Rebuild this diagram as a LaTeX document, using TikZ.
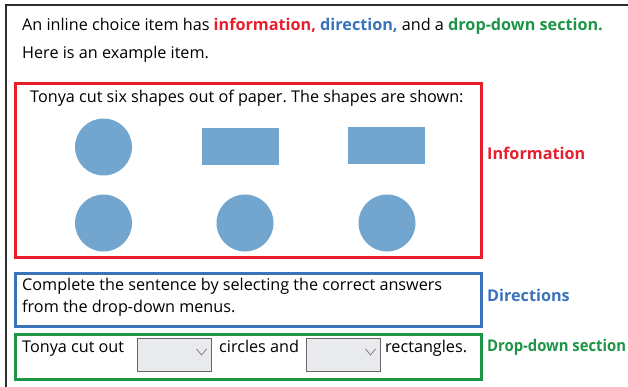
\documentclass[tikz,border=0pt]{standalone}
\usepackage{fontspec}
\setmainfont{Open Sans}
\usetikzlibrary{positioning}
\frenchspacing

\definecolor{infored}{RGB}{232,30,45}
\definecolor{dirblue}{RGB}{58,115,186}
\definecolor{dropgreen}{RGB}{30,148,71}
\definecolor{shapeblue}{RGB}{114,166,206}
\definecolor{framegray}{RGB}{45,45,45}
\definecolor{menugray}{RGB}{233,234,238}

\tikzset{
  plain/.style={anchor=base west, inner sep=0pt, font=\fontsize{16.2}{19}\selectfont},
  tag/.style={anchor=west, inner sep=0pt, font=\fontsize{16.2}{19}\selectfont\bfseries},
  disc/.style={circle, fill=shapeblue, minimum size=57pt, inner sep=0pt},
  slab/.style={rectangle, fill=shapeblue, minimum width=77pt, minimum height=37pt, inner sep=0pt},
  menu/.style={rectangle, draw=gray!80!black, fill=menugray, line width=1pt,
    minimum width=74pt, minimum height=33pt, inner sep=0pt}
}

\begin{document}
\begin{tikzpicture}[x=1pt, y=-1pt]
  \useasboundingbox (0,0) rectangle (628,387);

  % outer frame
  \draw[framegray, line width=2.5pt] (6,387) -- (6,5) -- (628,5);

  % intro text
  \node[plain] (intro) at (22,30.5) {An inline choice item has
    {\bfseries\color{infored}information,} {\bfseries\color{dirblue}direction,}
    and a {\bfseries\color{dropgreen}drop-down section.}};
  \node[plain] (example) at (22,59) {Here is an example item.};

  % information box
  \draw[infored, line width=3pt] (15.5,84) rectangle (481,257);
  \node[plain] (stem) at (30,103) {Tonya cut six shapes out of paper. The shapes are shown:};
  \node[disc] (c1) at (103.5,147) {};
  \node[slab] (r1) at (240,146.5) {};
  \node[slab] (r2) at (386.5,146) {};
  \node[disc] (c2) at (103.5,223) {};
  \node[disc] (c3) at (245,223) {};
  \node[disc] (c4) at (387,223) {};
  \node[tag, infored] (infolabel) at (487,153.5) {Information};

  % directions box
  \draw[dirblue, line width=3pt] (15.5,273) rectangle (481,326);
  \node[plain] (dir1) at (22,290) {Complete the sentence by selecting the correct answers};
  \node[plain] (dir2) at (22,312) {from the drop-down menus.};
  \node[tag, dirblue] (dirlabel) at (487,295) {Directions};

  % drop-down box
  \draw[dropgreen, line width=3pt] (15.5,334) rectangle (481,379);
  \node[plain] (lead) at (22,352) {Tonya cut out};
  \node[menu] (m1) at (174,355) {};
  \draw[gray, line width=0.8pt] (m1.east) ++(-15,-6) -- ++(5,6) -- ++(5,-6);
  \node[plain] (mid) at (219,352) {circles and};
  \node[menu] (m2) at (343,355) {};
  \draw[gray, line width=0.8pt] (m2.east) ++(-15,-6) -- ++(5,6) -- ++(5,-6);
  \node[plain] (tail) at (385,352) {rectangles.};
  \node[tag, dropgreen] (droplabel) at (487,347.5) {\scalebox{0.915}[1]{Drop-down section}};
\end{tikzpicture}
\end{document}
